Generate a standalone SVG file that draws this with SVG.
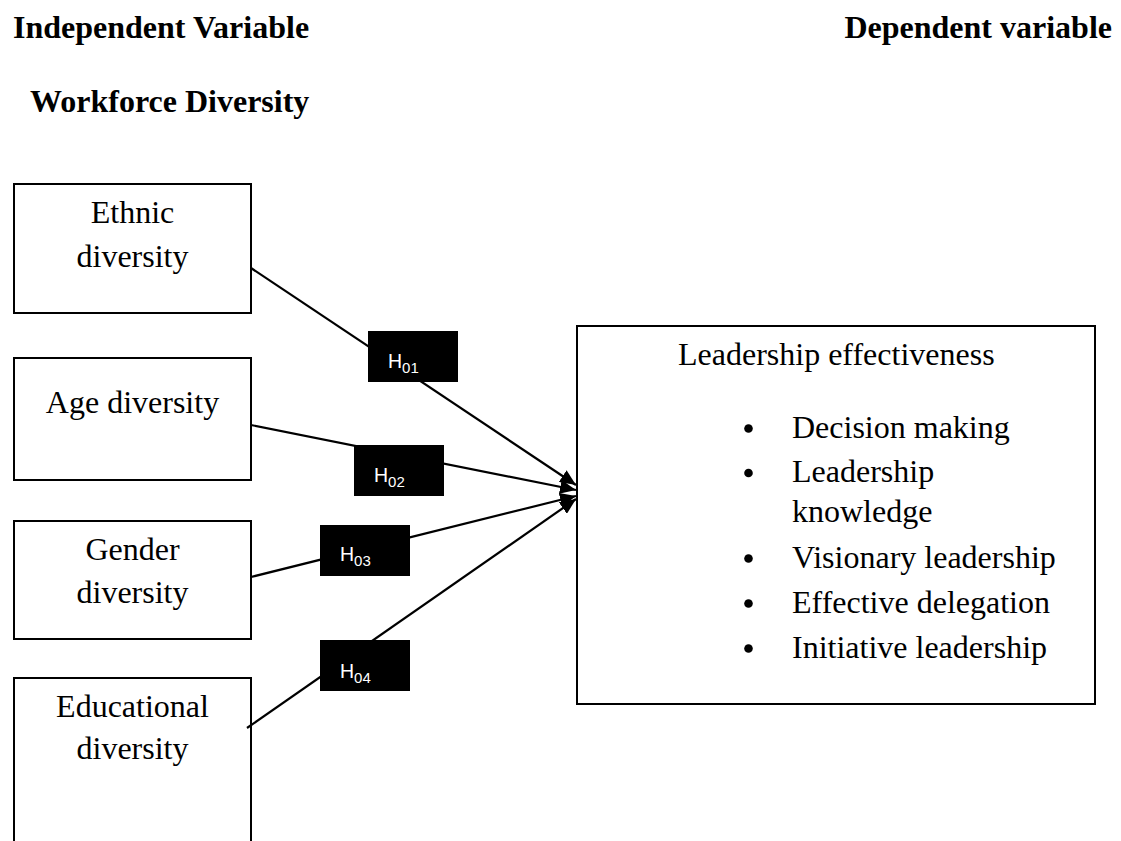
<svg xmlns="http://www.w3.org/2000/svg" width="1121" height="841" viewBox="0 0 1121 841">
  <style>
    .bg { fill: #ffffff; }
    .head { font-family: "Liberation Serif", "Times New Roman", serif; font-weight: bold; font-size: 32px; fill: #000; }
    .txt { font-family: "Liberation Serif", "Times New Roman", serif; font-size: 32px; fill: #000; }
    .box { fill: #ffffff; stroke: #000; stroke-width: 2; }
    .conn { stroke: #000; stroke-width: 2.2; fill: none; marker-end: url(#arrow); }
    .tag { fill: #000; }
    .tagtxt { font-family: "Liberation Sans", Arial, sans-serif; font-size: 19.5px; fill: #fff; }
    .sub { font-size: 15px; }
  </style>
  <defs>
    <marker id="arrow" markerUnits="userSpaceOnUse" markerWidth="18" markerHeight="14" refX="16" refY="7" orient="auto">
      <path d="M0,0 L16,7 L0,14 z" fill="#000"/>
    </marker>
  </defs>

  <rect class="bg" x="0" y="0" width="1121" height="841"/>

  <!-- headings -->
  <g id="headings">
    <text class="head" x="13" y="38">Independent Variable</text>
    <text class="head" x="1112" y="38" text-anchor="end">Dependent variable</text>
    <text class="head" x="30" y="112">Workforce Diversity</text>
  </g>

  <!-- independent variables -->
  <g id="ethnic">
    <rect class="box" x="14" y="184" width="237" height="129"/>
    <text class="txt" x="132.5" y="223" text-anchor="middle">Ethnic</text>
    <text class="txt" x="132.5" y="267" text-anchor="middle">diversity</text>
  </g>
  <g id="age">
    <rect class="box" x="14" y="358" width="237" height="122"/>
    <text class="txt" x="132.5" y="413" text-anchor="middle">Age diversity</text>
  </g>
  <g id="gender">
    <rect class="box" x="14" y="521" width="237" height="118"/>
    <text class="txt" x="132.5" y="560" text-anchor="middle">Gender</text>
    <text class="txt" x="132.5" y="603" text-anchor="middle">diversity</text>
  </g>
  <g id="educational">
    <rect class="box" x="14" y="678" width="237" height="170"/>
    <text class="txt" x="132.5" y="717" text-anchor="middle">Educational</text>
    <text class="txt" x="132.5" y="759" text-anchor="middle">diversity</text>
  </g>

  <!-- dependent variable -->
  <g id="leadership">
    <rect class="box" x="577" y="326" width="518" height="378"/>
    <text class="txt" x="678" y="365">Leadership effectiveness</text>
    <circle cx="748.5" cy="428.5" r="4.3"/>
    <text class="txt" x="792" y="438">Decision making</text>
    <circle cx="748.5" cy="473" r="4.3"/>
    <text class="txt" x="792" y="482">Leadership</text>
    <text class="txt" x="792" y="522">knowledge</text>
    <circle cx="748.5" cy="558.5" r="4.3"/>
    <text class="txt" x="792" y="568">Visionary leadership</text>
    <circle cx="748.5" cy="603.5" r="4.3"/>
    <text class="txt" x="792" y="613">Effective delegation</text>
    <circle cx="748.5" cy="648.5" r="4.3"/>
    <text class="txt" x="792" y="658">Initiative leadership</text>
  </g>

  <!-- connectors -->
  <g id="connectors">
    <line class="conn" x1="251" y1="268" x2="576" y2="485"/>
    <line class="conn" x1="251" y1="425" x2="576" y2="490"/>
    <line class="conn" x1="251" y1="577" x2="576" y2="496"/>
    <line class="conn" x1="247" y1="728" x2="576" y2="499"/>
  </g>

  <!-- hypothesis tags on the connectors -->
  <g id="tags">
    <g id="h01">
      <rect class="tag" x="368" y="331" width="90" height="51"/>
      <text class="tagtxt" x="388" y="368">H<tspan class="sub" dy="5">01</tspan></text>
    </g>
    <g id="h02">
      <rect class="tag" x="354" y="445" width="90" height="51"/>
      <text class="tagtxt" x="374" y="482">H<tspan class="sub" dy="5">02</tspan></text>
    </g>
    <g id="h03">
      <rect class="tag" x="320" y="525" width="90" height="51"/>
      <text class="tagtxt" x="340" y="561">H<tspan class="sub" dy="5">03</tspan></text>
    </g>
    <g id="h04">
      <rect class="tag" x="320" y="640" width="90" height="51"/>
      <text class="tagtxt" x="340" y="678">H<tspan class="sub" dy="5">04</tspan></text>
    </g>
  </g>
</svg>
